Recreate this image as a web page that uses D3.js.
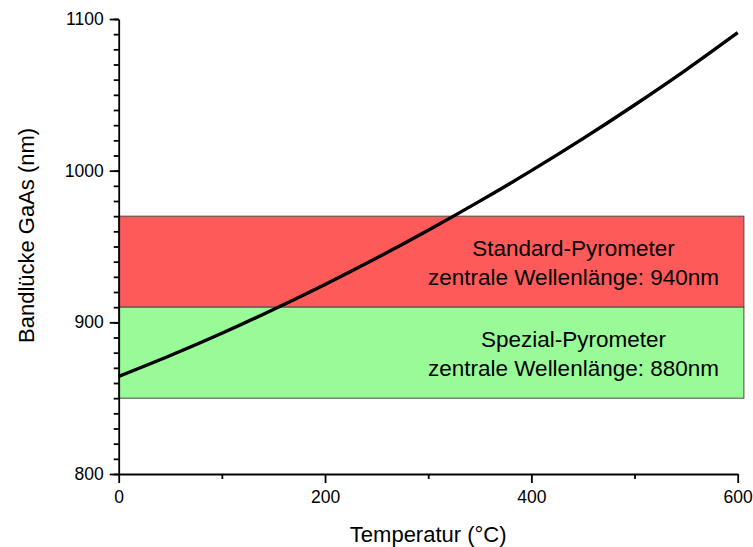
<!DOCTYPE html>
<html>
<head>
<meta charset="utf-8">
<script src="https://cdn.jsdelivr.net/npm/d3@7"></script>
<style>
  html, body { margin: 0; padding: 0; background: #fff; }
  svg { display: block; font-family: "Liberation Sans", Arial, sans-serif; }
</style>
</head>
<body>
<svg id="chart" width="753" height="547"></svg>
<script>
// GaAs band-gap wavelength vs. temperature
const temperatures = [0, 50, 100, 150, 200, 250, 300, 350, 400, 450, 500, 550, 600];
const bandgapNm = [864.3, 878.1, 892.8, 908.5, 925.0, 942.4, 960.7, 979.9, 1000.0, 1021.1, 1043.3, 1066.5, 1091.0];

// pyrometer sensitivity windows
const bandNames = ["Standard-Pyrometer", "Spezial-Pyrometer"];
const bandCaptions = ["zentrale Wellenlänge: 940nm", "zentrale Wellenlänge: 880nm"];
const bandLow = [910, 850];
const bandHigh = [970, 910];
const bandCentre = [940, 880];
const bandColors = ["#ff5a5a", "#98fb98"];
const bandTempEnd = 606;

const xMajorTicks = [0, 200, 400, 600];
const xMinorTicks = [100, 300, 500];
const yMajorTicks = [800, 900, 1000, 1100];
const yMinorTicks = d3.range(800, 1101, 10);

const svg = d3.select("#chart");
const plotLeft = 118.7, plotRight = 737.7, plotTop = 19, plotBottom = 474;

const x = d3.scaleLinear().domain([0, 600]).range([plotLeft, plotRight]);
const y = d3.scaleLinear().domain([800, 1100]).range([plotBottom, plotTop]);

// bands
const bands = svg.append("g");
bandLow.forEach((lo, i) => {
  bands.append("rect")
    .attr("x", x(0))
    .attr("y", y(bandHigh[i]))
    .attr("width", x(bandTempEnd) - x(0))
    .attr("height", y(lo) - y(bandHigh[i]))
    .attr("fill", bandColors[i])
    .attr("stroke", "#4a4a4a")
    .attr("stroke-width", 1);
  const cx = 573.5;
  const cy = y(bandCentre[i]);
  bands.append("text")
    .attr("x", cx).attr("y", cy - 6)
    .attr("text-anchor", "middle")
    .attr("font-size", 22.5)
    .text(bandNames[i]);
  bands.append("text")
    .attr("x", cx).attr("y", cy + 23.5)
    .attr("text-anchor", "middle")
    .attr("font-size", 22.5)
    .text(bandCaptions[i]);
});

// axes
function styleAxis(g) {
  g.selectAll("path, line").attr("stroke", "#000").attr("stroke-width", 1.8);
  g.selectAll("text").attr("fill", "#000").attr("font-size", 17.5)
    .attr("font-family", "'Liberation Sans', Arial, sans-serif");
}

svg.append("g")
  .attr("transform", `translate(0,${plotBottom})`)
  .call(d3.axisBottom(x).tickValues(xMinorTicks).tickSize(5).tickFormat(""))
  .call(g => g.select(".domain").remove())
  .call(styleAxis);

svg.append("g")
  .attr("transform", `translate(0,${plotBottom})`)
  .call(d3.axisBottom(x).tickValues(xMajorTicks).tickSize(9).tickSizeOuter(0).tickPadding(8).tickFormat(d3.format("d")))
  .call(styleAxis);

svg.append("g")
  .attr("transform", `translate(${plotLeft},0)`)
  .call(d3.axisLeft(y).tickValues(yMinorTicks).tickSize(5).tickFormat(""))
  .call(g => g.select(".domain").remove())
  .call(styleAxis);

svg.append("g")
  .attr("transform", `translate(${plotLeft},0)`)
  .call(d3.axisLeft(y).tickValues(yMajorTicks).tickSize(9).tickSizeOuter(0).tickPadding(6).tickFormat(d3.format("d")))
  .call(styleAxis);

// curve
const line = d3.line()
  .x((d, i) => x(temperatures[i]))
  .y(d => y(d))
  .curve(d3.curveMonotoneX);

svg.append("path")
  .datum(bandgapNm)
  .attr("d", line)
  .attr("fill", "none")
  .attr("stroke", "#000")
  .attr("stroke-width", 3.4);

// axis titles
svg.append("text")
  .attr("x", (plotLeft + plotRight) / 2)
  .attr("y", 542)
  .attr("text-anchor", "middle")
  .attr("font-size", 22)
  .text("Temperatur (°C)");

svg.append("text")
  .attr("transform", "translate(34,343) rotate(-90)")
  .attr("text-anchor", "start")
  .attr("font-size", 22)
  .text("Bandlücke GaAs (nm)");
</script>
</body>
</html>
